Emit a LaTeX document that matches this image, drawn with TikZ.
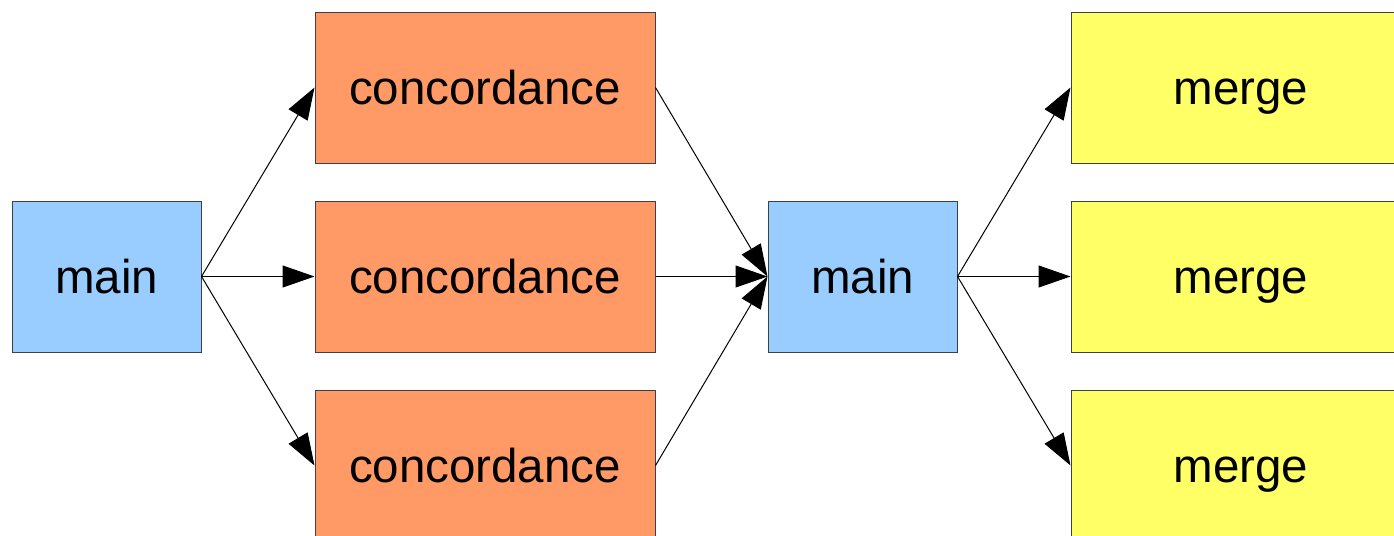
\documentclass[tikz,border=0pt]{standalone}
\usepackage{fontspec}
\setmainfont{Liberation Sans}
\usetikzlibrary{arrows.meta}
\definecolor{mainblue}{HTML}{99CCFF}
\definecolor{concorange}{HTML}{FF9966}
\definecolor{mergeyellow}{HTML}{FFFF66}
\begin{document}
\begin{tikzpicture}[x=0.5pt,y=-0.5pt,
  box/.style={draw=black!75, line width=0.5pt, minimum height=75.5pt, inner sep=0pt,
    text height=17pt, text depth=0pt, font=\fontsize{23.75}{28}\selectfont},
  link/.style={-{Triangle[length=16pt,width=11pt]}, line width=0.5pt}]
\clip (0,0) rectangle (1394,536); % page = reference size
\node[box, fill=mainblue, minimum width=94.5pt] (main1) at (106.5,276.5) {main};
\node[box, fill=mainblue, minimum width=94.5pt] (main2) at (862.5,276.5) {main};
\foreach \i/\y in {1/87.5,2/276.5,3/465.5}{
  \node[box, fill=concorange, minimum width=170pt] (conc\i) at (485,\y) {concordance};
  \node[box, fill=mergeyellow, minimum width=170pt] (merge\i) at (1241,\y) {merge};
}
\foreach \i in {1,2,3}{
  \draw[link] (main1.east) -- (conc\i.west);
  \draw[link] (conc\i.east) -- (main2.west);
  \draw[link] (main2.east) -- (merge\i.west);
}
\end{tikzpicture}
\end{document}
